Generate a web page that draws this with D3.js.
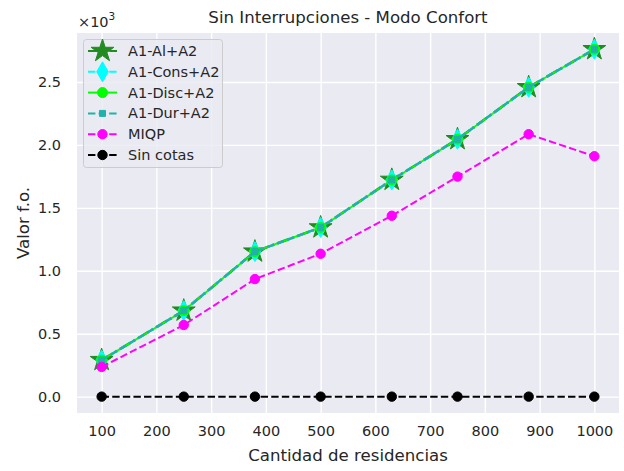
<!DOCTYPE html>
<html><head><meta charset="utf-8">
<script src="https://cdn.jsdelivr.net/npm/d3@7"></script>
<style>body{margin:0;background:#fff;} text{font-family:"DejaVu Sans",sans-serif;fill:#262626;}</style>
</head><body>
<svg id="c" width="624" height="471"></svg>
<script>
const xValues = [100, 250, 380, 500, 630, 750, 880, 1000];
const a1Al   = [0.29, 0.683, 1.152, 1.344, 1.722, 2.045, 2.458, 2.760];
const a1Cons = [0.29, 0.683, 1.152, 1.344, 1.722, 2.045, 2.458, 2.760];
const a1Disc = [0.29, 0.683, 1.152, 1.344, 1.722, 2.045, 2.458, 2.760];
const a1Dur  = [0.29, 0.683, 1.152, 1.344, 1.722, 2.045, 2.458, 2.760];
const miqp   = [0.236, 0.569, 0.934, 1.135, 1.437, 1.748, 2.085, 1.910];
const sinCotas = [0, 0, 0, 0, 0, 0, 0, 0];
const xTicks = [100, 200, 300, 400, 500, 600, 700, 800, 900, 1000];
const yTicks = [0.0, 0.5, 1.0, 1.5, 2.0, 2.5];
const seriesNames = ["A1-Al+A2", "A1-Cons+A2", "A1-Disc+A2", "A1-Dur+A2", "MIQP", "Sin cotas"];

const L = 77, R = 619, T = 33, B = 413;
const svg = d3.select("#c");
const x = d3.scaleLinear().domain([55, 1045]).range([L, R]);
const y = d3.scaleLinear().domain([-0.13, 2.889]).range([B, T]);

svg.append("rect").attr("x", L).attr("y", T).attr("width", R - L).attr("height", B - T).attr("fill", "#EAEAF2");

const gx = svg.append("g").attr("transform", `translate(0,${B})`)
  .call(d3.axisBottom(x).tickValues(xTicks).tickSize(-(B - T)).tickPadding(15).tickFormat(d3.format("d")));
const gy = svg.append("g").attr("transform", `translate(${L},0)`)
  .call(d3.axisLeft(y).tickValues(yTicks).tickSize(-(R - L)).tickPadding(16).tickFormat(d3.format(".1f")));
[gx, gy].forEach(g => {
  g.select(".domain").remove();
  g.selectAll(".tick line").attr("stroke", "#fff").attr("stroke-width", 1.4);
  g.selectAll(".tick text").attr("font-size", 14.5).attr("fill", "#262626").style("font-family", "DejaVu Sans");
});
gx.selectAll(".tick text").attr("dy", "0.55em");

function starPath(r) {
  const ri = r * 0.381966; let p = [];
  for (let i = 0; i < 10; i++) {
    const a = -Math.PI / 2 + i * Math.PI / 5; const rr = i % 2 ? ri : r;
    p.push([rr * Math.cos(a), rr * Math.sin(a)]);
  }
  return "M" + p.map(q => q.join(",")).join("L") + "Z";
}
function thinDiamond(h, w) { return `M0,${-h}L${w},0L0,${h}L${-w},0Z`; }
function circlePath(r) { return `M${r},0A${r},${r} 0 1,1 ${-r},0A${r},${r} 0 1,1 ${r},0Z`; }
function squarePath(s) { return `M${-s},${-s}H${s}V${s}H${-s}Z`; }

const series = [
  {name: seriesNames[0], vals: a1Al, color: "#228B22", lw: 2.6, dash: "12.8,3.2,2,3.2", marker: starPath(12), mfill: "#228B22"},
  {name: seriesNames[1], vals: a1Cons, color: "#00FFFF", lw: 2, dash: "7.4,3.2", marker: thinDiamond(10, 5.8), mfill: "#00FFFF"},
  {name: seriesNames[2], vals: a1Disc, color: "#00FF00", lw: 1.8, dash: null, marker: circlePath(5), mfill: "#00FF00"},
  {name: seriesNames[3], vals: a1Dur, color: "#20B2AA", lw: 2.4, dash: "7.4,3.2", marker: squarePath(3), mfill: "#20B2AA"},
  {name: seriesNames[4], vals: miqp, color: "#FF00FF", lw: 2, dash: "7.4,3.2", marker: circlePath(4.7), mfill: "#FF00FF"},
  {name: seriesNames[5], vals: sinCotas, color: "#000000", lw: 2, dash: "7.4,3.2", marker: circlePath(4.7), mfill: "#000000"}
];

const line = d3.line().x(d => x(d[0])).y(d => y(d[1]));
series.forEach(s => {
  const pts = xValues.map((v, i) => [v, s.vals[i]]);
  const g = svg.append("g");
  g.append("path").attr("d", line(pts)).attr("fill", "none").attr("stroke", s.color)
    .attr("stroke-width", s.lw).attr("stroke-dasharray", s.dash);
  g.selectAll("path.m").data(pts).join("path").attr("class", "m")
    .attr("transform", d => `translate(${x(d[0])},${y(d[1])})`)
    .attr("d", s.marker).attr("fill", s.mfill).attr("stroke", s.mfill).attr("stroke-width", 1);
});

const lg = svg.append("g");
lg.append("rect").attr("x", 83.5).attr("y", 39.5).attr("width", 139).attr("height", 128).attr("rx", 3)
  .attr("fill", "#EAEAF2").attr("fill-opacity", 0.8).attr("stroke", "#cccccc").attr("stroke-width", 1);
series.forEach((s, i) => {
  const cy = 51 + i * 20.8;
  lg.append("path").attr("d", `M88,${cy}H117`).attr("stroke", s.color).attr("stroke-width", 2)
    .attr("stroke-dasharray", s.dash).attr("fill", "none");
  lg.append("path").attr("transform", `translate(102.5,${cy})`).attr("d", s.marker)
    .attr("fill", s.mfill).attr("stroke", s.mfill).attr("stroke-width", 1);
  lg.append("text").attr("x", 128).attr("y", cy).attr("dy", "0.35em").attr("font-size", 14.5).text(s.name);
});

svg.append("text").attr("x", (L + R) / 2).attr("y", 23).attr("text-anchor", "middle").attr("font-size", 16.6)
  .text("Sin Interrupciones - Modo Confort");
svg.append("text").attr("x", 78).attr("y", 27).attr("font-size", 14.5).text("×10").append("tspan")
  .attr("dy", -7).attr("font-size", 10.5).text("3");
svg.append("text").attr("x", (L + R) / 2).attr("y", 461).attr("text-anchor", "middle").attr("font-size", 16.6)
  .text("Cantidad de residencias");
svg.append("text").attr("transform", `translate(29,${(T + B) / 2}) rotate(-90)`).attr("text-anchor", "middle")
  .attr("font-size", 16.6).text("Valor f.o.");
</script>
</body></html>
